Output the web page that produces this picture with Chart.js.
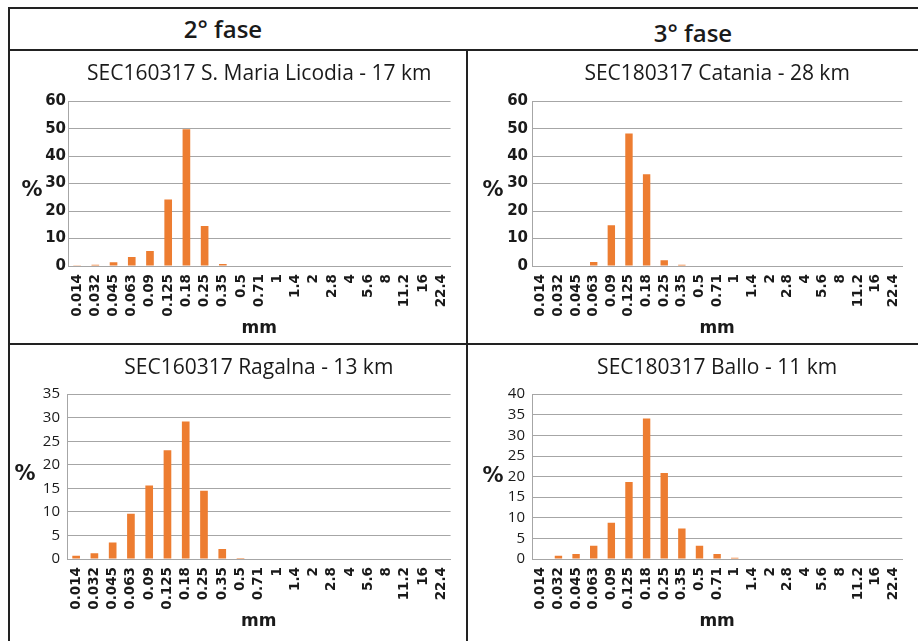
<!DOCTYPE html>
<html>
<head>
<meta charset="utf-8">
<script src="https://cdn.jsdelivr.net/npm/chart.js@4.4.0/dist/chart.umd.min.js"></script>
<style>
  html, body { margin: 0; padding: 0; background: #fff; }
  body { width: 918px; height: 641px; position: relative; overflow: hidden; }
  .line { position: absolute; background: #222; }
  .head { position: absolute; font-family: "Open Sans", sans-serif; font-weight: 600; font-size: 24px; color: #1a1a1a; text-align: center; line-height: 30px; }
  .panel { position: absolute; }
</style>
</head>
<body>
<div class="head" style="left:10px; top:14px; width:426px;">2° fase</div>
<div class="head" style="left:468px; top:18px; width:450px;">3° fase</div>

<div class="panel" style="left:10px; top:51px; width:456px; height:292px;"><canvas id="c1"></canvas></div>
<div class="panel" style="left:468px; top:51px; width:450px; height:292px;"><canvas id="c2"></canvas></div>
<div class="panel" style="left:10px; top:345px; width:456px; height:296px;"><canvas id="c3"></canvas></div>
<div class="panel" style="left:468px; top:345px; width:450px; height:296px;"><canvas id="c4"></canvas></div>

<div class="line" style="left:8px; top:7px; width:910px; height:2px;"></div>
<div class="line" style="left:8px; top:7px; width:2px; height:634px;"></div>
<div class="line" style="left:8px; top:49px; width:910px; height:2px;"></div>
<div class="line" style="left:466px; top:49px; width:2px; height:592px;"></div>
<div class="line" style="left:8px; top:343px; width:910px; height:2px;"></div>

<script>
// grain size classes (mm)
const sizeLabels = ['0.014', '0.032', '0.045', '0.063', '0.09', '0.125', '0.18', '0.25', '0.35', '0.5',
    '0.71', '1', '1.4', '2', '2.8', '4', '5.6', '8', '11.2', '16', '22.4'];

// percentages per sample
const licodiaValues = [0.3, 0.5, 1.4, 3.3, 5.5, 24.2, 49.8, 14.6, 0.7, 0, 0, 0, 0, 0, 0, 0, 0, 0, 0, 0, 0];
const cataniaValues = [0, 0, 0.2, 1.5, 14.8, 48.2, 33.4, 2.1, 0.5, 0, 0, 0, 0, 0, 0, 0, 0, 0, 0, 0, 0];
const ragalnaValues = [0.7, 1.2, 3.5, 9.6, 15.6, 23.1, 29.2, 14.5, 2.1, 0.2, 0.1, 0.1, 0, 0, 0, 0, 0, 0, 0, 0, 0];
const balloValues = [0, 0.8, 1.2, 3.2, 8.8, 18.7, 34.1, 20.9, 7.4, 3.2, 1.2, 0.3, 0, 0, 0, 0, 0, 0, 0, 0, 0];

const titles = ['SEC160317 S. Maria Licodia - 17 km', 'SEC180317 Catania - 28 km',
    'SEC160317 Ragalna - 13 km', 'SEC180317 Ballo - 11 km'];

const BAR_COLOR = '#ED7D31';
const GRID_COLOR = '#a6a6a6';

// draws the horizontal "%" label left of the y axis
const percentLabel = {
    id: 'percentLabel',
    afterDraw(chart, args, opts) {
        const { ctx, chartArea } = chart;
        ctx.save();
        ctx.font = 'bold 21px "DejaVu Sans", sans-serif';
        ctx.fillStyle = '#1a1a1a';
        ctx.textAlign = 'center';
        ctx.textBaseline = 'middle';
        ctx.fillText('%', opts.x, (chartArea.top + chartArea.bottom) / 2 + opts.dy);
        ctx.restore();
    }
};

function makeChart(id, title, values, cfg) {
    return new Chart(document.getElementById(id), {
        type: 'bar',
        data: {
            labels: sizeLabels,
            datasets: [{
                data: values,
                backgroundColor: BAR_COLOR,
                barPercentage: 0.42,
                categoryPercentage: 1
            }]
        },
        options: {
            responsive: true,
            maintainAspectRatio: false,
            animation: false,
            layout: { padding: { left: cfg.padLeft, right: cfg.padRight, top: 0, bottom: cfg.padBottom } },
            plugins: {
                legend: { display: false },
                tooltip: { enabled: false },
                title: {
                    display: true,
                    text: title,
                    fullSize: false,
                    color: '#1a1a1a',
                    font: { family: '"Open Sans", sans-serif', size: 21, weight: 'normal', lineHeight: 1.2 },
                    padding: { top: cfg.titleTop, bottom: cfg.titleBottom }
                },
                percentLabel: { x: cfg.pctX, dy: cfg.pctDy }
            },
            scales: {
                x: {
                    grid: { display: false, drawTicks: false },
                    border: { color: GRID_COLOR },
                    ticks: {
                        autoSkip: false,
                        minRotation: 90,
                        maxRotation: 90,
                        padding: 8,
                        color: '#1a1a1a',
                        font: { family: '"DejaVu Sans", sans-serif', size: 13.5, weight: 'bold' }
                    },
                    title: {
                        display: true,
                        text: 'mm',
                        color: '#1a1a1a',
                        padding: 0,
                        font: { family: '"DejaVu Sans", sans-serif', size: 17, weight: 'bold' }
                    },
                    afterFit(scale) { scale.height = 73; }
                },
                y: {
                    min: 0,
                    max: cfg.yMax,
                    grid: { color: GRID_COLOR, drawTicks: false },
                    border: { color: GRID_COLOR },
                    ticks: {
                        stepSize: cfg.yStep,
                        autoSkip: false,
                        maxTicksLimit: 20,
                        padding: cfg.yPad,
                        color: '#1a1a1a',
                        font: cfg.yFont
                    },
                    afterFit(scale) { scale.width = cfg.yWidth; }
                }
            }
        },
        plugins: [percentLabel]
    });
}

const boldY = { family: '"DejaVu Sans", sans-serif', size: 15, weight: 'bold', lineHeight: 1 };
const plainY = { family: '"Open Sans", sans-serif', size: 15, weight: 'normal', lineHeight: 1 };

makeChart('c1', titles[0], licodiaValues, {
    padLeft: 33, padRight: 11, padBottom: 4, yWidth: 25, yPad: 2, yMax: 60, yStep: 10,
    yFont: boldY, titleTop: 10, titleBottom: 15, pctX: 22, pctDy: 7
});
makeChart('c2', titles[1], cataniaValues, {
    padLeft: 37, padRight: 0, padBottom: 4, yWidth: 27, yPad: 4, yMax: 60, yStep: 10,
    yFont: boldY, titleTop: 10, titleBottom: 15, pctX: 25, pctDy: 7
});
makeChart('c3', titles[2], ragalnaValues, {
    padLeft: 25, padRight: 13, padBottom: 9, yWidth: 32, yPad: 7, yMax: 35, yStep: 5,
    yFont: plainY, titleTop: 10, titleBottom: 14, pctX: 15, pctDy: -2
});
makeChart('c4', titles[3], balloValues, {
    padLeft: 37, padRight: 0, padBottom: 9, yWidth: 27, yPad: 7, yMax: 40, yStep: 5,
    yFont: plainY, titleTop: 10, titleBottom: 14, pctX: 25, pctDy: 0
});
</script>
</body>
</html>
